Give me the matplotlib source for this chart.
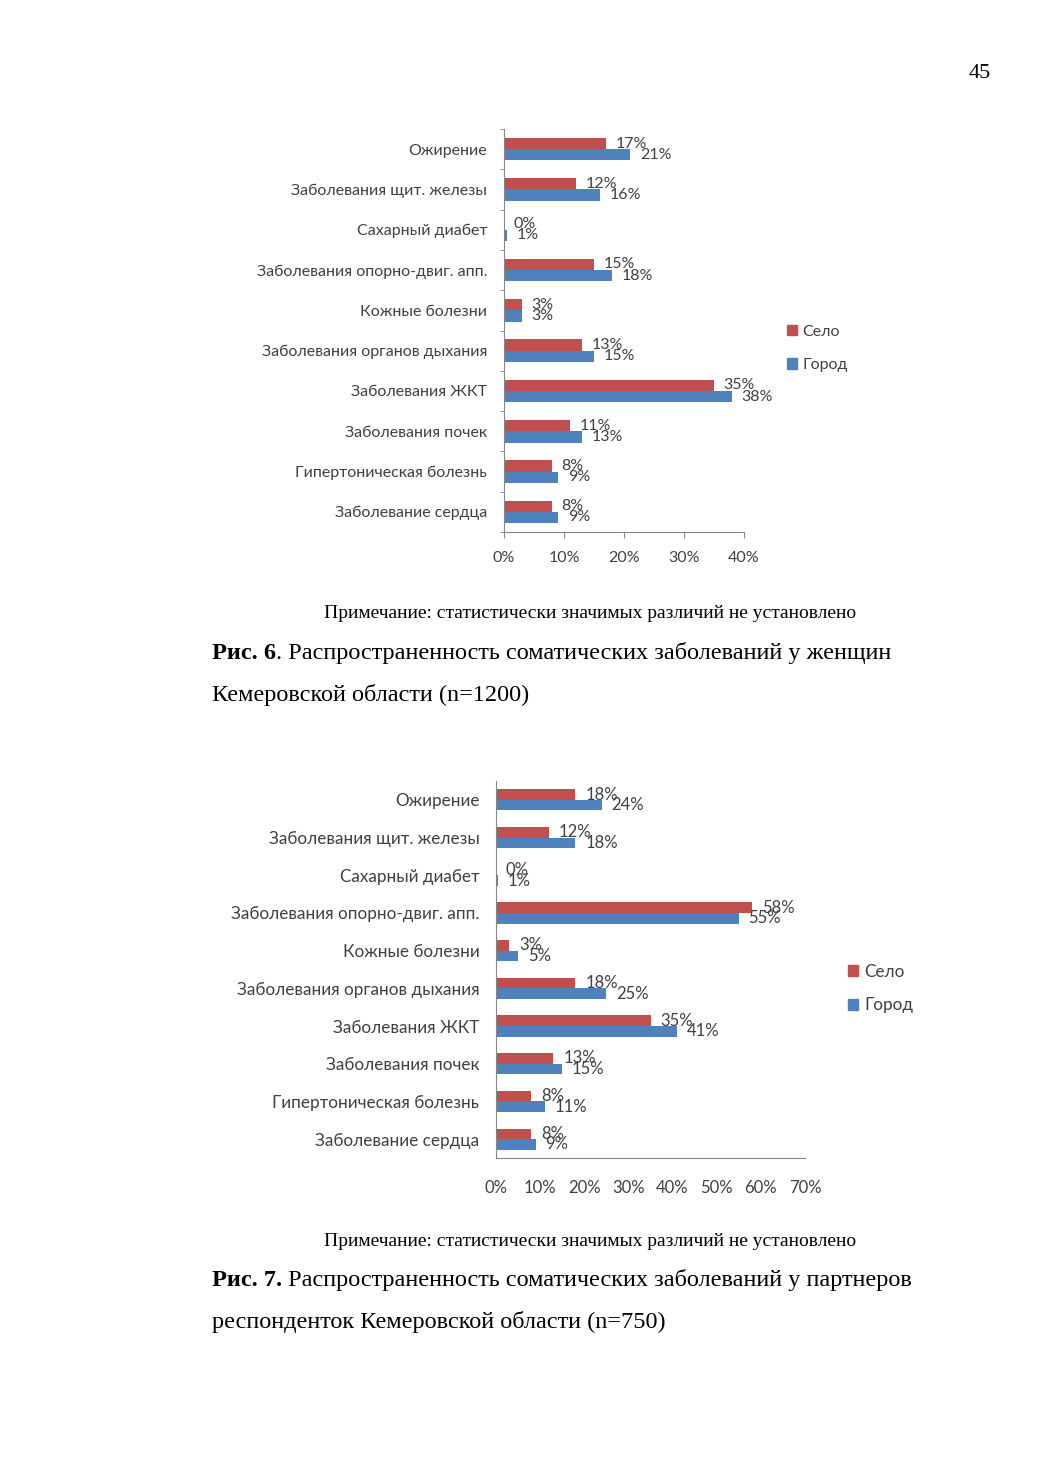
"""
Page 45: two horizontal bar charts (Село / Город) with captions
"""
import matplotlib
matplotlib.use('Agg')
import matplotlib.pyplot as plt
from matplotlib.patches import Patch

SANS = ['Lato', 'Open Sans', 'DejaVu Sans']
SERIF = ['Liberation Serif', 'DejaVu Serif']
plt.rcParams['font.family'] = SANS

RED = '#C0504D'
BLUE = '#4F81BD'
TXT = '#404040'
AXC = '#868686'

categories = ['Ожирение', 'Заболевания щит. железы', 'Сахарный диабет',
              'Заболевания опорно-двиг. апп.', 'Кожные болезни',
              'Заболевания органов дыхания', 'Заболевания ЖКТ',
              'Заболевания почек', 'Гипертоническая болезнь', 'Заболевание сердца']

# Рис. 6 - women
women_selo = [17, 12, 0, 15, 3, 13, 35, 11, 8, 8]
women_gorod = [21, 16, 0.5, 18, 3, 15, 38, 13, 9, 9]
women_selo_lbl = ['17%', '12%', '0%', '15%', '3%', '13%', '35%', '11%', '8%', '8%']
women_gorod_lbl = ['21%', '16%', '1%', '18%', '3%', '15%', '38%', '13%', '9%', '9%']

# Рис. 7 - partners
partners_selo = [18, 12, 0, 58, 3, 18, 35, 13, 8, 8]
partners_gorod = [24, 18, 0.5, 55, 5, 25, 41, 15, 11, 9]
partners_selo_lbl = ['18%', '12%', '0%', '58%', '3%', '18%', '35%', '13%', '8%', '8%']
partners_gorod_lbl = ['24%', '18%', '1%', '55%', '5%', '25%', '41%', '15%', '11%', '9%']

series_names = ['Село', 'Город']


def draw_chart(fig, rect, selo, gorod, selo_lbl, gorod_lbl, xmax, legend_xy,
               fs, catfs, lspace, ticks=True):
    ax = fig.add_axes(rect)
    n = len(categories)
    pos = list(range(n))
    h = 0.28
    ax.barh([p - h / 2 for p in pos], selo, height=h, color=RED)
    ax.barh([p + h / 2 for p in pos], gorod, height=h, color=BLUE)
    for p, v, s in zip(pos, selo, selo_lbl):
        ax.annotate(s, (v, p - h / 2), xytext=(7, 0), textcoords='offset points',
                    va='center', ha='left', fontsize=fs, color=TXT)
    for p, v, s in zip(pos, gorod, gorod_lbl):
        ax.annotate(s, (v, p + h / 2), xytext=(7, 0), textcoords='offset points',
                    va='center', ha='left', fontsize=fs, color=TXT)
    ax.set_ylim(n - 0.5, -0.5)
    ax.set_xlim(0, xmax)
    ax.set_xticks(range(0, xmax + 1, 10))
    ax.set_xticklabels(['{}%'.format(t) for t in range(0, xmax + 1, 10)])
    ax.set_yticks(pos)
    ax.set_yticklabels(categories)
    ax.set_yticks([p + 0.5 for p in range(-1, n)], minor=True)
    for s in ['top', 'right']:
        ax.spines[s].set_visible(False)
    for s in ['left', 'bottom']:
        ax.spines[s].set_color(AXC)
    ax.tick_params(axis='y', which='major', length=0, pad=12, labelsize=catfs, labelcolor=TXT)
    if ticks:
        ax.tick_params(axis='y', which='minor', length=3, color=AXC, direction='out')
        ax.tick_params(axis='x', length=4, color=AXC, pad=10, labelsize=fs, labelcolor=TXT)
    else:
        ax.tick_params(axis='y', which='minor', length=0)
        ax.tick_params(axis='x', length=0, pad=16, labelsize=fs, labelcolor=TXT)
    handles = [Patch(color=RED), Patch(color=BLUE)]
    ax.legend(handles, series_names, loc='center left', bbox_to_anchor=legend_xy,
              bbox_transform=fig.transFigure, frameon=False, fontsize=catfs,
              handlelength=0.6, handleheight=0.6, handletextpad=0.35,
              labelspacing=lspace, borderpad=0, borderaxespad=0, labelcolor=TXT)
    return ax


def caption(bg, x, y, bold, rest, fs):
    t = bg.text(x, y, bold, fontsize=fs, fontweight='bold', family=SERIF,
                ha='left', va='bottom', transform=bg.transAxes)
    bg.annotate(rest, xy=(1, 0), xycoords=t, ha='left', va='bottom',
                fontsize=fs, family=SERIF)


def main():
    W, H = 1039, 1471
    fig = plt.figure(figsize=(W / 100, H / 100), dpi=100)
    bg = fig.add_axes([0, 0, 1, 1])
    bg.axis('off')

    def fx(px):
        return px / W

    def fy(py):
        return 1 - py / H

    draw_chart(fig, [fx(504), fy(532), fx(240), 403 / H],
               women_selo, women_gorod, women_selo_lbl, women_gorod_lbl,
               40, (fx(787), fy(348.5)), 11.5, 11.5, 1.2, ticks=True)
    draw_chart(fig, [fx(496), fy(1158), fx(309), 377 / H],
               partners_selo, partners_gorod, partners_selo_lbl, partners_gorod_lbl,
               70, (fx(848), fy(988.5)), 12, 12.3, 1.05, ticks=False)

    bg.text(fx(980), fy(74), '45', fontsize=16, family=SERIF, ha='center', va='center')

    note = 'Примечание: статистически значимых различий не установлено'
    bg.text(fx(590), fy(614), note, fontsize=14, family=SERIF, ha='center', va='center')
    caption(bg, fx(212), fy(664), 'Рис. 6', '. Распространенность соматических заболеваний у женщин', 17.5)
    bg.text(fx(212), fy(706), 'Кемеровской области (n=1200)', fontsize=17.5, family=SERIF,
            ha='left', va='bottom')

    bg.text(fx(590), fy(1242), note, fontsize=14, family=SERIF, ha='center', va='center')
    caption(bg, fx(212), fy(1291), 'Рис. 7.', ' Распространенность соматических заболеваний у партнеров', 17.5)
    bg.text(fx(212), fy(1333), 'респонденток Кемеровской области (n=750)', fontsize=17.5, family=SERIF,
            ha='left', va='bottom')

    fig.savefig('out.png', dpi=100, facecolor='white')


if __name__ == '__main__':
    main()
